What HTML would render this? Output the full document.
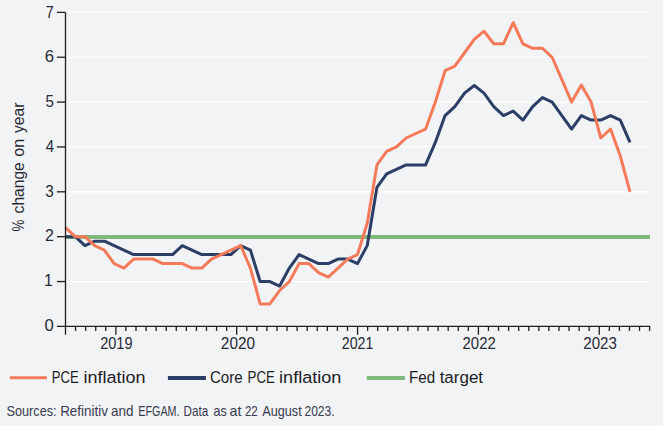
<!DOCTYPE html>
<html><head><meta charset="utf-8"><title>PCE inflation chart</title>
<style>
html,body{margin:0;padding:0;background:#f2f3f5;overflow:hidden;}
svg{display:block;}
.t{font-family:"Liberation Sans",Arial,sans-serif;fill:#1c1c24;}
.a{font-family:"Liberation Sans",Arial,sans-serif;fill:#282a36;}
.s{font-family:"Liberation Sans",Arial,sans-serif;fill:#383b4e;}
</style></head><body>
<svg width="663" height="426" viewBox="0 0 663 426">
<rect width="663" height="426" fill="#f2f3f5"/>
<rect x="0" y="425" width="663" height="1" fill="#f6f6f8"/>
<line x1="67" y1="281.54" x2="649.5" y2="281.54" stroke="#ffffff" stroke-width="1.2"/>
<line x1="67" y1="236.68" x2="649.5" y2="236.68" stroke="#ffffff" stroke-width="1.2"/>
<line x1="67" y1="191.82" x2="649.5" y2="191.82" stroke="#ffffff" stroke-width="1.2"/>
<line x1="67" y1="146.96" x2="649.5" y2="146.96" stroke="#ffffff" stroke-width="1.2"/>
<line x1="67" y1="102.10" x2="649.5" y2="102.10" stroke="#ffffff" stroke-width="1.2"/>
<line x1="67" y1="57.24" x2="649.5" y2="57.24" stroke="#ffffff" stroke-width="1.2"/>
<line x1="67" y1="12.38" x2="649.5" y2="12.38" stroke="#ffffff" stroke-width="1.2"/>
<line x1="65.5" y1="236.98" x2="650" y2="236.98" stroke="#7eb97b" stroke-width="4"/>
<polyline points="65.50,236.68 75.23,236.68 84.97,245.65 94.70,241.17 104.43,241.17 114.16,245.65 123.90,250.14 133.63,254.62 143.36,254.62 153.09,254.62 162.83,254.62 172.56,254.62 182.29,245.65 192.03,250.14 201.76,254.62 211.49,254.62 221.22,254.62 230.96,254.62 240.69,245.65 250.42,250.14 260.16,281.54 269.89,281.54 279.62,286.03 289.35,268.08 299.09,254.62 308.82,259.11 318.55,263.60 328.28,263.60 338.02,259.11 347.75,259.11 357.48,263.60 367.22,245.65 376.95,187.33 386.68,173.88 396.41,169.39 406.15,164.90 415.88,164.90 425.61,164.90 435.34,142.47 445.08,115.56 454.81,106.59 464.54,93.13 474.28,85.50 484.01,93.13 493.74,106.59 503.47,115.56 513.21,111.07 522.94,120.04 532.67,106.59 542.41,97.61 552.14,102.10 561.87,115.56 571.60,129.02 581.34,115.56 591.07,120.04 600.80,120.04 610.53,115.56 620.27,120.04 630.00,142.47" fill="none" stroke="#2b3f66" stroke-width="3.0" stroke-linejoin="round"/>
<polyline points="65.50,227.71 75.23,236.68 84.97,236.68 94.70,245.65 104.43,250.14 114.16,263.60 123.90,268.08 133.63,259.11 143.36,259.11 153.09,259.11 162.83,263.60 172.56,263.60 182.29,263.60 192.03,268.08 201.76,268.08 211.49,259.11 221.22,254.62 230.96,250.14 240.69,245.65 250.42,268.08 260.16,303.97 269.89,303.97 279.62,290.51 289.35,281.54 299.09,263.60 308.82,263.60 318.55,272.57 328.28,277.05 338.02,268.08 347.75,259.11 357.48,254.62 367.22,223.22 376.95,164.90 386.68,151.45 396.41,146.96 406.15,137.99 415.88,133.50 425.61,129.02 435.34,102.10 445.08,70.70 454.81,66.21 464.54,52.75 474.28,39.30 484.01,31.22 493.74,43.78 503.47,43.78 513.21,22.70 522.94,43.78 532.67,48.27 542.41,48.27 552.14,57.24 561.87,79.67 571.60,102.10 581.34,85.05 591.07,102.10 600.80,137.99 610.53,129.02 620.27,155.93 630.00,191.82" fill="none" stroke="#f47a5a" stroke-width="3.0" stroke-linejoin="round"/>
<line x1="65.5" y1="12.4" x2="65.5" y2="334.8" stroke="#1e1e1e" stroke-width="1.3"/>
<line x1="56.9" y1="326.4" x2="650.2" y2="326.4" stroke="#1e1e1e" stroke-width="1.3"/>
<line x1="56.9" y1="281.54" x2="65.5" y2="281.54" stroke="#1e1e1e" stroke-width="1.3"/>
<line x1="56.9" y1="236.68" x2="65.5" y2="236.68" stroke="#1e1e1e" stroke-width="1.3"/>
<line x1="56.9" y1="191.82" x2="65.5" y2="191.82" stroke="#1e1e1e" stroke-width="1.3"/>
<line x1="56.9" y1="146.96" x2="65.5" y2="146.96" stroke="#1e1e1e" stroke-width="1.3"/>
<line x1="56.9" y1="102.10" x2="65.5" y2="102.10" stroke="#1e1e1e" stroke-width="1.3"/>
<line x1="56.9" y1="57.24" x2="65.5" y2="57.24" stroke="#1e1e1e" stroke-width="1.3"/>
<line x1="56.9" y1="12.38" x2="65.5" y2="12.38" stroke="#1e1e1e" stroke-width="1.3"/>
<line x1="75.57" y1="326.4" x2="75.57" y2="330.9" stroke="#1e1e1e" stroke-width="1.3"/>
<line x1="85.64" y1="326.4" x2="85.64" y2="330.9" stroke="#1e1e1e" stroke-width="1.3"/>
<line x1="95.71" y1="326.4" x2="95.71" y2="330.9" stroke="#1e1e1e" stroke-width="1.3"/>
<line x1="105.78" y1="326.4" x2="105.78" y2="330.9" stroke="#1e1e1e" stroke-width="1.3"/>
<line x1="115.85" y1="326.4" x2="115.85" y2="334.8" stroke="#1e1e1e" stroke-width="1.3"/>
<line x1="125.92" y1="326.4" x2="125.92" y2="330.9" stroke="#1e1e1e" stroke-width="1.3"/>
<line x1="135.99" y1="326.4" x2="135.99" y2="330.9" stroke="#1e1e1e" stroke-width="1.3"/>
<line x1="146.07" y1="326.4" x2="146.07" y2="330.9" stroke="#1e1e1e" stroke-width="1.3"/>
<line x1="156.14" y1="326.4" x2="156.14" y2="330.9" stroke="#1e1e1e" stroke-width="1.3"/>
<line x1="166.21" y1="326.4" x2="166.21" y2="330.9" stroke="#1e1e1e" stroke-width="1.3"/>
<line x1="176.28" y1="326.4" x2="176.28" y2="330.9" stroke="#1e1e1e" stroke-width="1.3"/>
<line x1="186.35" y1="326.4" x2="186.35" y2="330.9" stroke="#1e1e1e" stroke-width="1.3"/>
<line x1="196.42" y1="326.4" x2="196.42" y2="330.9" stroke="#1e1e1e" stroke-width="1.3"/>
<line x1="206.49" y1="326.4" x2="206.49" y2="330.9" stroke="#1e1e1e" stroke-width="1.3"/>
<line x1="216.56" y1="326.4" x2="216.56" y2="330.9" stroke="#1e1e1e" stroke-width="1.3"/>
<line x1="226.63" y1="326.4" x2="226.63" y2="330.9" stroke="#1e1e1e" stroke-width="1.3"/>
<line x1="236.70" y1="326.4" x2="236.70" y2="334.8" stroke="#1e1e1e" stroke-width="1.3"/>
<line x1="246.77" y1="326.4" x2="246.77" y2="330.9" stroke="#1e1e1e" stroke-width="1.3"/>
<line x1="256.84" y1="326.4" x2="256.84" y2="330.9" stroke="#1e1e1e" stroke-width="1.3"/>
<line x1="266.91" y1="326.4" x2="266.91" y2="330.9" stroke="#1e1e1e" stroke-width="1.3"/>
<line x1="276.98" y1="326.4" x2="276.98" y2="330.9" stroke="#1e1e1e" stroke-width="1.3"/>
<line x1="287.06" y1="326.4" x2="287.06" y2="330.9" stroke="#1e1e1e" stroke-width="1.3"/>
<line x1="297.13" y1="326.4" x2="297.13" y2="330.9" stroke="#1e1e1e" stroke-width="1.3"/>
<line x1="307.20" y1="326.4" x2="307.20" y2="330.9" stroke="#1e1e1e" stroke-width="1.3"/>
<line x1="317.27" y1="326.4" x2="317.27" y2="330.9" stroke="#1e1e1e" stroke-width="1.3"/>
<line x1="327.34" y1="326.4" x2="327.34" y2="330.9" stroke="#1e1e1e" stroke-width="1.3"/>
<line x1="337.41" y1="326.4" x2="337.41" y2="330.9" stroke="#1e1e1e" stroke-width="1.3"/>
<line x1="347.48" y1="326.4" x2="347.48" y2="330.9" stroke="#1e1e1e" stroke-width="1.3"/>
<line x1="357.55" y1="326.4" x2="357.55" y2="334.8" stroke="#1e1e1e" stroke-width="1.3"/>
<line x1="367.62" y1="326.4" x2="367.62" y2="330.9" stroke="#1e1e1e" stroke-width="1.3"/>
<line x1="377.69" y1="326.4" x2="377.69" y2="330.9" stroke="#1e1e1e" stroke-width="1.3"/>
<line x1="387.76" y1="326.4" x2="387.76" y2="330.9" stroke="#1e1e1e" stroke-width="1.3"/>
<line x1="397.83" y1="326.4" x2="397.83" y2="330.9" stroke="#1e1e1e" stroke-width="1.3"/>
<line x1="407.90" y1="326.4" x2="407.90" y2="330.9" stroke="#1e1e1e" stroke-width="1.3"/>
<line x1="417.97" y1="326.4" x2="417.97" y2="330.9" stroke="#1e1e1e" stroke-width="1.3"/>
<line x1="428.04" y1="326.4" x2="428.04" y2="330.9" stroke="#1e1e1e" stroke-width="1.3"/>
<line x1="438.12" y1="326.4" x2="438.12" y2="330.9" stroke="#1e1e1e" stroke-width="1.3"/>
<line x1="448.19" y1="326.4" x2="448.19" y2="330.9" stroke="#1e1e1e" stroke-width="1.3"/>
<line x1="458.26" y1="326.4" x2="458.26" y2="330.9" stroke="#1e1e1e" stroke-width="1.3"/>
<line x1="468.33" y1="326.4" x2="468.33" y2="330.9" stroke="#1e1e1e" stroke-width="1.3"/>
<line x1="478.40" y1="326.4" x2="478.40" y2="334.8" stroke="#1e1e1e" stroke-width="1.3"/>
<line x1="488.47" y1="326.4" x2="488.47" y2="330.9" stroke="#1e1e1e" stroke-width="1.3"/>
<line x1="498.54" y1="326.4" x2="498.54" y2="330.9" stroke="#1e1e1e" stroke-width="1.3"/>
<line x1="508.61" y1="326.4" x2="508.61" y2="330.9" stroke="#1e1e1e" stroke-width="1.3"/>
<line x1="518.68" y1="326.4" x2="518.68" y2="330.9" stroke="#1e1e1e" stroke-width="1.3"/>
<line x1="528.75" y1="326.4" x2="528.75" y2="330.9" stroke="#1e1e1e" stroke-width="1.3"/>
<line x1="538.82" y1="326.4" x2="538.82" y2="330.9" stroke="#1e1e1e" stroke-width="1.3"/>
<line x1="548.89" y1="326.4" x2="548.89" y2="330.9" stroke="#1e1e1e" stroke-width="1.3"/>
<line x1="558.96" y1="326.4" x2="558.96" y2="330.9" stroke="#1e1e1e" stroke-width="1.3"/>
<line x1="569.03" y1="326.4" x2="569.03" y2="330.9" stroke="#1e1e1e" stroke-width="1.3"/>
<line x1="579.11" y1="326.4" x2="579.11" y2="330.9" stroke="#1e1e1e" stroke-width="1.3"/>
<line x1="589.18" y1="326.4" x2="589.18" y2="330.9" stroke="#1e1e1e" stroke-width="1.3"/>
<line x1="599.25" y1="326.4" x2="599.25" y2="334.8" stroke="#1e1e1e" stroke-width="1.3"/>
<line x1="609.32" y1="326.4" x2="609.32" y2="330.9" stroke="#1e1e1e" stroke-width="1.3"/>
<line x1="619.39" y1="326.4" x2="619.39" y2="330.9" stroke="#1e1e1e" stroke-width="1.3"/>
<line x1="629.46" y1="326.4" x2="629.46" y2="330.9" stroke="#1e1e1e" stroke-width="1.3"/>
<line x1="639.53" y1="326.4" x2="639.53" y2="330.9" stroke="#1e1e1e" stroke-width="1.3"/>
<line x1="649.60" y1="326.4" x2="649.60" y2="330.9" stroke="#1e1e1e" stroke-width="1.3"/>
<text x="44.10" y="286.24" class="a" font-size="15.8">1</text>
<text x="51.82" y="382.7" class="t" font-size="16.7" textLength="27.04" lengthAdjust="spacingAndGlyphs">PCE</text>
<text x="83.59" y="382.7" class="t" font-size="16.7" textLength="61.95" lengthAdjust="spacingAndGlyphs">inflation</text>
<text x="209.91" y="382.7" class="t" font-size="16.7" textLength="32.82" lengthAdjust="spacingAndGlyphs">Core</text>
<text x="247.50" y="382.7" class="t" font-size="16.7" textLength="27.36" lengthAdjust="spacingAndGlyphs">PCE</text>
<text x="279.08" y="382.7" class="t" font-size="16.7" textLength="62.26" lengthAdjust="spacingAndGlyphs">inflation</text>
<text x="409.05" y="382.7" class="t" font-size="16.7" textLength="26.18" lengthAdjust="spacingAndGlyphs">Fed</text>
<text x="439.65" y="382.7" class="t" font-size="16.7" textLength="43.43" lengthAdjust="spacingAndGlyphs">target</text>
<text x="6.51" y="415.8" class="s" font-size="14.3" textLength="50.05" lengthAdjust="spacingAndGlyphs">Sources:</text>
<text x="60.14" y="415.8" class="s" font-size="14.3" textLength="47.86" lengthAdjust="spacingAndGlyphs">Refinitiv</text>
<text x="111.01" y="415.8" class="s" font-size="14.3" textLength="22.52" lengthAdjust="spacingAndGlyphs">and</text>
<text x="138.25" y="415.8" class="s" font-size="14.3" textLength="41.34" lengthAdjust="spacingAndGlyphs">EFGAM.</text>
<text x="183.58" y="415.8" class="s" font-size="14.3" textLength="24.68" lengthAdjust="spacingAndGlyphs">Data</text>
<text x="213.45" y="415.8" class="s" font-size="14.3" textLength="13.27" lengthAdjust="spacingAndGlyphs">as</text>
<text x="229.48" y="415.8" class="s" font-size="14.3" textLength="11.90" lengthAdjust="spacingAndGlyphs">at</text>
<text x="244.88" y="415.8" class="s" font-size="14.0" textLength="12.90" lengthAdjust="spacingAndGlyphs">22</text>
<text x="262.20" y="415.8" class="s" font-size="14.3" textLength="39.53" lengthAdjust="spacingAndGlyphs">August</text>
<text x="304.45" y="415.8" class="s" font-size="14.0" textLength="30.15" lengthAdjust="spacingAndGlyphs">2023.</text>
<text x="100.21" y="349.0" class="a" font-size="15.8" textLength="32.30" lengthAdjust="spacingAndGlyphs">2019</text>
<text x="220.87" y="349.0" class="a" font-size="15.8" textLength="34.16" lengthAdjust="spacingAndGlyphs">2020</text>
<text x="341.83" y="349.0" class="a" font-size="15.8" textLength="31.57" lengthAdjust="spacingAndGlyphs">2021</text>
<text x="462.59" y="349.0" class="a" font-size="15.8" textLength="33.13" lengthAdjust="spacingAndGlyphs">2022</text>
<text x="583.28" y="349.0" class="a" font-size="15.8" textLength="33.64" lengthAdjust="spacingAndGlyphs">2023</text>
<text x="44.64" y="331.1" class="a" font-size="15.8" textLength="9.26" lengthAdjust="spacingAndGlyphs">0</text>
<text x="45.14" y="241.38" class="a" font-size="15.8" textLength="8.85" lengthAdjust="spacingAndGlyphs">2</text>
<text x="45.29" y="196.52" class="a" font-size="15.8" textLength="8.55" lengthAdjust="spacingAndGlyphs">3</text>
<text x="45.64" y="151.66" class="a" font-size="15.8" textLength="8.35" lengthAdjust="spacingAndGlyphs">4</text>
<text x="45.40" y="106.8" class="a" font-size="15.8" textLength="8.44" lengthAdjust="spacingAndGlyphs">5</text>
<text x="44.81" y="61.94" class="a" font-size="15.8" textLength="9.29" lengthAdjust="spacingAndGlyphs">6</text>
<text x="45.72" y="17.9" class="a" font-size="15.8" textLength="8.00" lengthAdjust="spacingAndGlyphs">7</text>
<text transform="translate(23.9,231.52) rotate(-90)" class="a" font-size="16.0" textLength="11.82" lengthAdjust="spacingAndGlyphs">%</text>
<text transform="translate(23.9,213.41) rotate(-90)" class="a" font-size="16.0" textLength="51.13" lengthAdjust="spacingAndGlyphs">change</text>
<text transform="translate(23.9,156.73) rotate(-90)" class="a" font-size="16.0" textLength="17.99" lengthAdjust="spacingAndGlyphs">on</text>
<text transform="translate(23.9,133.02) rotate(-90)" class="a" font-size="16.0" textLength="30.37" lengthAdjust="spacingAndGlyphs">year</text>
<line x1="9.8" y1="377.7" x2="46.9" y2="377.7" stroke="#f47a5a" stroke-width="3"/>
<line x1="167.9" y1="377.9" x2="205.9" y2="377.9" stroke="#2b3f66" stroke-width="4"/>
<line x1="366.8" y1="377.9" x2="404.9" y2="377.9" stroke="#7eb97b" stroke-width="4"/>
</svg>
</body></html>
